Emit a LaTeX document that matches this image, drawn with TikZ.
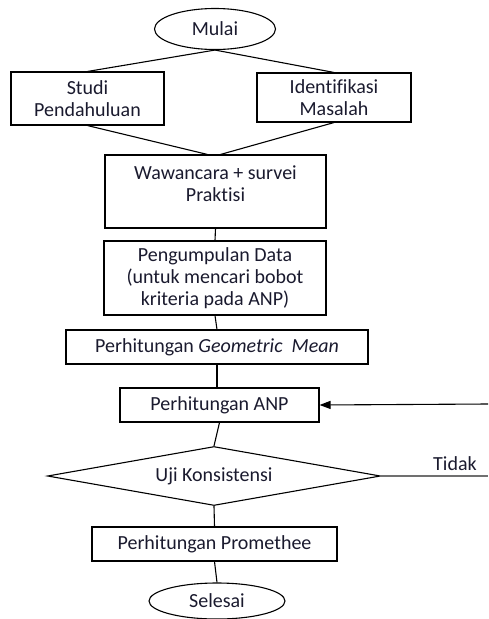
\documentclass[tikz,border=0pt]{standalone}
\usepackage{fontspec}
\setmainfont{Carlito}[Ligatures=NoCommon]
\usetikzlibrary{arrows.meta,shapes.geometric}
\definecolor{ink}{HTML}{1A1A2E}
\definecolor{linegray}{HTML}{707070}
\tikzset{
  box/.style={draw=black,line width=1.1pt,align=center,inner sep=0pt,
              text=ink,font=\fontsize{20}{22}\selectfont},
  term/.style={ellipse,draw=black,line width=1.1pt,inner sep=0pt,
               text=ink,font=\fontsize{20}{22}\selectfont},
  decision/.style={diamond,draw=black,line width=1.1pt,inner sep=0pt,
                   aspect=5.6,text=ink,font=\fontsize{20}{22}\selectfont},
  link/.style={line width=1.1pt,draw=black},
  graylink/.style={line width=1.1pt,draw=linegray},
  backarr/.style={-{Triangle[length=11pt,width=8pt]},line width=1.1pt,
                  draw=black}
}
\begin{document}
\begin{tikzpicture}[x=1pt,y=-1pt]
    \useasboundingbox (0,0) rectangle (488,619);

    % start and the two opening steps
    \node[term,minimum width=121pt,minimum height=41pt] (mulai) at (215,29) {Mulai};
    \node[box,minimum width=153pt,minimum height=53pt] (studi) at (87.5,98.5)
      {Studi\\Pendahuluan};
    \node[box,minimum width=154pt,minimum height=49pt] (ident) at (334,97.5)
      {Identifikasi\\Masalah};

    % main column
    \node[box,minimum width=221pt,minimum height=73pt] (wawan) at (215.5,191.5)
      {Wawancara + survei\\Praktisi\\[-12pt]\strut};
    \node[box,minimum width=222pt,minimum height=74pt] (data) at (215,278)
      {Pengumpulan Data\\(untuk mencari bobot\\kriteria pada ANP)};
    \node[box,minimum width=302pt,minimum height=34pt] (geo) at (217,347)
      {Perhitungan \textit{Geometric\ \ Mean}};
    \node[box,minimum width=199pt,minimum height=34pt] (anp) at (219.5,405)
      {Perhitungan ANP};
    \node[decision,minimum width=333pt,minimum height=59pt] (uji) at (214,476)
      {Uji Konsistensi};
    \node[box,minimum width=245pt,minimum height=34pt] (prom) at (214.5,544)
      {Perhitungan Promethee};
    \node[term,minimum width=136pt,minimum height=36pt] (selesai) at (217,601)
      {Selesai};

    % loop back out of the right edge
    \coordinate (tidakend) at (488,476);
    \coordinate (backstart) at (488,404);
    \node[text=ink,font=\fontsize{20}{22}\selectfont] (tidak) at (455,464) {Tidak};

    \draw[link] (mulai.south) -- (studi.north);
    \draw[link] (mulai.south) -- (ident.north);
    \draw[link] (studi.south) -- ([xshift=-8pt]wawan.north);
    \draw[link] (ident.south) -- ([xshift=5pt]wawan.north);
    \draw[link] (wawan.south) -- (data.north);
    \draw[link] (data.south) -- (geo.north);
    \draw[link] (geo.north |- geo.south) -- (anp.north -| geo.north);
    \draw[link] (anp.south) -- (uji.north);
    \draw[link] (uji.south) -- (prom.north);
    \draw[link] (prom.south) -- (selesai.north);
    \draw[graylink] (uji.east) -- (tidakend);
    \draw[backarr] (backstart) -- (anp.east);
\end{tikzpicture}
\end{document}
